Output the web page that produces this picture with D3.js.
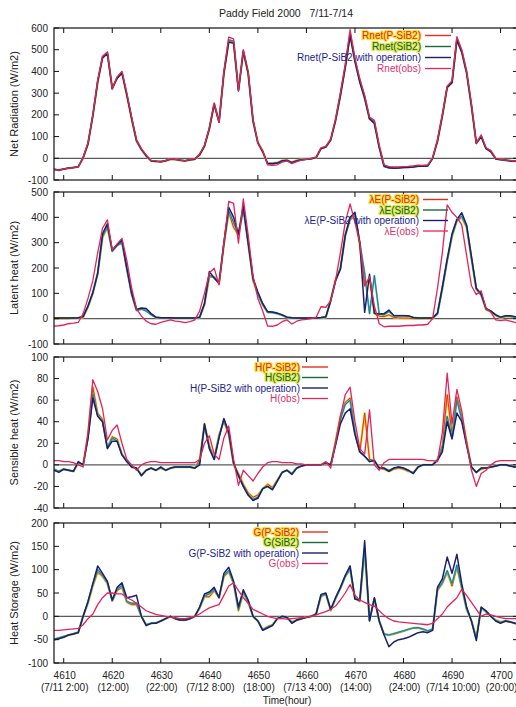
<!DOCTYPE html>
<html>
<head>
<meta charset="utf-8">
<script src="https://cdn.jsdelivr.net/npm/d3@7"></script>
<style>
  html, body { margin: 0; padding: 0; background: #fff; }
  svg { display: block; }
  text { font-family: "Liberation Sans", Arial, sans-serif; }
</style>
</head>
<body>
<svg id="chart" width="516" height="707"></svg>
<script>
// Hourly series, hours 4608 .. 4704 (7/11 0:00 .. 7/14 24:00)
const startHour = 4608;
const endHour = 4704;

const xTickHours = [4610, 4620, 4630, 4640, 4650, 4660, 4670, 4680, 4690, 4700];
const xTickDates = ["(7/11 2:00)", "(12:00)", "(22:00)", "(7/12 8:00)", "(18:00)",
                    "(7/13 4:00)", "(14:00)", "(24:00)", "(7/14 10:00)", "(20:00)"];

// Net radiation (W/m2)
const rnetObs = [
  -50, -55, -50, -45, -43, -38, 5, 70, 200, 360,
  470, 490, 320, 375, 400, 300, 190, 85, 45, 15,
  -10, -12, -18, -10, -3, -5, -8, -12, -5, -3,
  20, 60, 140, 255, 165, 400, 558, 550, 312, 500,
  400, 180, 70, 35, -30, -32, -30, -18, -12, -25,
  -15, -8, -5, 0, 5, 48, 55, 88, 180, 300,
  430, 593, 460, 365, 290, 190, 175, 60, -30, -38,
  -40, -40, -38, -37, -35, -32, -33, -30, 2, 85,
  200, 332, 358, 560, 500, 400, 250, 70, 108, 48,
  35, 0, -5, -8, -10, -12, -15];
const rnetP = [
  -52, -55, -50, -46, -43, -40, 0, 65, 195, 350,
  465, 485, 325, 370, 395, 290, 180, 80, 40, 12,
  -12, -15, -16, -12, -5, -6, -10, -12, -8, -5,
  15, 55, 135, 250, 170, 390, 540, 535, 318, 490,
  395, 170, 75, 30, -22, -22, -20, -10, -8, -18,
  -10, -6, -4, -2, 3, 45, 52, 85, 175, 290,
  420, 570, 450, 360, 280, 180, 165, 55, -35, -42,
  -43, -43, -41, -40, -38, -36, -35, -33, 0, 80,
  195, 325, 350, 545, 490, 395, 240, 70, 100, 45,
  32, -2, -6, -8, -12, -13, -15];
const rnetS = [
  -52, -56, -50, -45, -43, -40, 2, 68, 198, 355,
  468, 488, 318, 372, 398, 295, 185, 78, 42, 10,
  -12, -14, -16, -11, -4, -6, -9, -12, -7, -4,
  18, 58, 138, 252, 168, 395, 545, 540, 315, 495,
  392, 175, 72, 32, -24, -24, -22, -12, -9, -20,
  -11, -7, -4, -1, 4, 46, 53, 86, 178, 295,
  425, 575, 455, 355, 285, 185, 168, 50, -38, -44,
  -45, -44, -42, -41, -39, -36, -36, -34, 1, 82,
  198, 330, 352, 550, 495, 400, 245, 72, 102, 46,
  33, -3, -7, -9, -12, -13, -16];
const rnetOp = [
  -50, -54, -49, -45, -42, -39, 3, 66, 196, 352,
  462, 482, 322, 368, 392, 292, 182, 82, 41, 11,
  -11, -14, -15, -11, -4, -5, -9, -11, -7, -4,
  16, 56, 136, 248, 166, 392, 535, 530, 310, 492,
  390, 172, 70, 30, -25, -25, -22, -12, -10, -20,
  -12, -7, -5, -2, 3, 44, 52, 84, 172, 288,
  418, 565, 445, 350, 275, 182, 160, 50, -36, -44,
  -46, -45, -43, -42, -40, -37, -37, -35, 0, 78,
  194, 326, 348, 545, 488, 392, 240, 68, 100, 44,
  30, -3, -6, -9, -12, -13, -15];

// Latent heat flux (W/m2)
const leObs = [
  -29, -28, -25, -20, -18, -15, 20, 80, 150, 260,
  357, 390, 271, 295, 317, 230, 120, 40, 10, -10,
  -20, -22, -15, -10, -5, -10, -12, -16, -12, -5,
  30, 100, 180, 199, 133, 300, 463, 455, 298, 473,
  330, 170, 80, 30, -29, -30, -25, -12, -5, -21,
  -10, -5, -3, 0, 5, 47, 45, 70, 150, 260,
  380, 453, 380, 300, 130, 165, 50, -20, -32, -30,
  -30, -30, -28, -27, -27, -25, -25, -22, 0, 120,
  260, 449, 420, 400, 370, 250, 130, 95, 110, 40,
  25, -5, -8, -5, -10, -15, -18];
const leP = [
  0, 0, 0, 0, 1, 2, 5, 45, 100, 180,
  320, 360, 268, 290, 305, 200, 100, 35, 40, 33,
  18, 5, 3, 2, 2, 2, 2, 2, 2, 2,
  5, 55, 165, 165, 140, 290, 420, 360, 330, 440,
  300, 150, 95, 55, 25, 25, 20, 14, 5, 3,
  2, 2, 2, 2, 2, 3, 5, 75, 155, 200,
  330, 390, 405, 290, 130, 160, 20, 10, 8, 15,
  5, 3, 2, 2, 0, 0, 0, 0, 0, 20,
  120, 230, 325, 385, 400, 360, 235, 115, 95, 35,
  28, 12, 3, 8, 8, 5, 3];
const leS = [
  2, 2, 2, 2, 2, 3, 8, 48, 102, 175,
  325, 365, 265, 288, 300, 195, 95, 32, 38, 30,
  15, 5, 3, 3, 3, 3, 2, 2, 2, 2,
  5, 58, 170, 165, 138, 295, 425, 380, 330, 430,
  295, 155, 98, 55, 25, 24, 20, 14, 5, 3,
  2, 2, 2, 2, 3, 4, 6, 72, 150, 198,
  325, 395, 415, 300, 180, 20, 170, 18, 15, 28,
  12, 12, 12, 10, 5, 2, 2, 2, 2, 18,
  118, 228, 328, 388, 405, 365, 240, 118, 92, 38,
  30, 15, 5, 10, 10, 6, 5];
const leOp = [
  3, 3, 3, 3, 3, 4, 8, 50, 103, 180,
  335, 375, 270, 292, 310, 200, 100, 36, 42, 40,
  20, 6, 4, 4, 4, 3, 3, 3, 3, 3,
  6, 60, 186, 160, 140, 300, 440, 400, 335, 445,
  300, 160, 105, 60, 28, 26, 22, 15, 6, 4,
  3, 3, 3, 3, 3, 5, 8, 70, 150, 195,
  330, 400, 420, 298, 25, 175, 21, 18, 20, 34,
  12, 12, 12, 12, 5, 3, 3, 3, 3, 22,
  125, 235, 335, 392, 418, 370, 245, 120, 98, 40,
  30, 15, 6, 12, 12, 8, 6];

// Sensible heat flux (W/m2)
const hObs = [
  4, 4, 3, 3, 2, 0, -2, 30, 79, 68,
  52, 23, 32, 37, 20, 5, 0, -5, 0, 2,
  3, 3, 2, 2, 2, 2, 2, 2, 2, 2,
  5, 20, 27, 10, 5, 25, 36, 5, -19, -5,
  -10, -15, -8, -2, 2, 3, 3, 2, 2, 2,
  1, 1, 0, 0, 0, 0, 3, -3, 20, 45,
  65, 72, 40, 15, 10, 51, 0, -5, 2, 5,
  5, 5, 5, 5, 5, 5, 5, 4, 4, 3,
  30, 85, 38, 70, 50, 20, -5, -20, -8, -5,
  0, 3, 4, 4, 4, 4, 4];
const hP = [
  -5, -6, -4, -5, -6, 2, 0, 28, 72, 48,
  42, 16, 26, 24, 10, 4, -2, -3, -9, -5,
  -3, -5, -3, -5, -3, -2, -2, -2, -2, -3,
  5, 38, 18, 6, 28, 40, 28, 0, -8, -18,
  -26, -30, -28, -22, -18, -21, -14, -7, -5, -8,
  -3, -1, 0, 0, 0, 0, 2, 0, 22, 45,
  58, 62, 30, 12, 48, 5, 4, -3, -4, -6,
  -4, -3, -4, -6, -7, -2, 0, 0, 0, 5,
  18, 65, 28, 63, 45, 22, -2, -7, -4, -3,
  -2, -1, 0, 0, -1, -2, -2];
const hS = [
  -4, -6, -4, -5, -6, 2, 0, 26, 66, 46,
  40, 16, 25, 22, 10, 3, -2, -3, -10, -5,
  -3, -5, -2, -5, -3, -2, -2, -2, -2, -3,
  2, 36, 16, 5, 26, 42, 30, 1, -10, -20,
  -28, -32, -30, -22, -20, -23, -15, -7, -5, -8,
  -3, -1, 0, 0, 0, 0, 2, 0, 20, 42,
  56, 60, 30, 12, 8, 3, 4, -3, -3, -5,
  -3, -2, -3, -5, -8, -2, 0, 0, 0, 5,
  15, 45, 25, 60, 42, 20, -2, -7, -3, -3,
  -2, -1, 0, 0, -1, -2, -2];
const hOp = [
  -5, -7, -4, -5, -6, 3, 0, 24, 62, 45,
  40, 15, 22, 22, 9, 3, -2, -3, -10, -5,
  -3, -5, -2, -5, -3, -2, -2, -2, -2, -3,
  0, 38, 15, 5, 25, 43, 30, 2, -10, -20,
  -28, -33, -31, -22, -20, -23, -15, -7, -5, -9,
  -3, -1, 0, 0, 0, 0, 2, 0, 18, 38,
  48, 52, 28, 12, 8, 3, 4, -3, -3, -6,
  -3, -2, -3, -5, -8, -2, 0, 0, 0, 4,
  12, 40, 24, 48, 40, 18, -2, -7, -3, -3,
  -2, -1, 0, 0, -1, -2, -2];

// Ground heat storage (W/m2)
const gObs = [
  -30, -30, -29, -28, -27, -26, -18, -5, 5, 25,
  40, 50, 50, 48, 48, 40, 35, 28, 20, 12,
  8, 4, 2, 0, -2, -3, -5, -5, -3, 0,
  5, 12, 18, 22, 25, 45, 65, 72, 55, 40,
  28, 15, 10, 5, 0, -3, -5, -5, -6, -5,
  -4, -3, -2, 0, 3, 7, 10, 15, 22, 35,
  50, 68, 45, 35, 30, 25, 22, 12, 2, -5,
  -10, -12, -13, -14, -15, -16, -17, -18, -15, -5,
  5, 20, 30, 40, 58, 45, 30, 15, 0, 5,
  3, 0, -3, -5, -5, -5, -6];
const gP = [
  -50, -47, -44, -40, -38, -34, 0, 28, 65, 95,
  85, 70, 33, 55, 62, 30, 25, 25, 0, -18,
  -15, -14, -10, -5, 0, -5, -8, -8, -5, 0,
  18, 42, 42, 55, 40, 85, 95, 70, 12, 50,
  30, 0, -10, -28, -22, -18, -5, 0, -2, -12,
  -8, -5, -2, 0, 5, 42, 48, 12, 38, 60,
  85, 100, 38, 32, 140, -8, 38, -10, -38, -40,
  -38, -35, -32, -28, -25, -25, -28, -32, -28, 55,
  70, 95, 65, 105, 60, 15, -10, -45, 18, 10,
  0, -8, -12, -10, -12, -15, -18];
const gS = [
  -49, -46, -43, -40, -37, -34, 0, 30, 68, 100,
  88, 72, 33, 58, 66, 32, 28, 28, 0, -18,
  -15, -14, -10, -5, 0, -5, -8, -8, -5, 0,
  18, 44, 48, 58, 40, 88, 98, 72, 15, 52,
  32, 0, -10, -29, -23, -19, -5, 0, -2, -13,
  -8, -5, -2, 0, 5, 44, 48, 14, 38, 60,
  85, 102, 38, 33, 145, -9, 38, -10, -38, -40,
  -37, -34, -31, -28, -25, -24, -27, -31, -27, 58,
  72, 98, 70, 110, 62, 16, -10, -48, 18, 10,
  0, -9, -13, -10, -12, -15, -18];
const gOp = [
  -50, -48, -45, -40, -38, -35, 0, 32, 70, 108,
  92, 75, 35, 62, 72, 40, 42, 45, 0, -20,
  -15, -15, -10, -5, 0, -5, -8, -8, -5, 0,
  20, 48, 52, 62, 40, 92, 105, 75, 20, 57,
  35, 0, -10, -30, -25, -20, -5, 0, -2, -15,
  -8, -5, -2, 0, 5, 47, 50, 15, 40, 62,
  88, 108, 37, 35, 162, -10, 40, -10, -40, -65,
  -55, -50, -48, -45, -40, -35, -33, -35, -30, 62,
  80, 127, 92, 133, 70, 20, -10, -52, 20, 12,
  0, -10, -15, -10, -12, -15, -20];

// ---- drawing ----
const svg = d3.select("#chart");
const plotLeft = 54, plotRight = 520;
const x = d3.scaleLinear().domain([startHour, endHour]).range([plotLeft, plotRight]);

// line styles: each model run drawn with a tinted halo under a thin core
const styles = {
  p:   [{stroke: "#f4d21e", width: 2.3}, {stroke: "#e2301c", width: 1.0}],
  s:   [{stroke: "#45b4e6", width: 1.8}, {stroke: "#1d6a3c", width: 0.7}],
  op:  [{stroke: "#1b206c", width: 1.5}],
  obs: [{stroke: "#e3235b", width: 1.3}]
};
// legend sample lines
const keyLines = {
  p:   {stroke: "#e2301c", width: 1.4},
  s:   {stroke: "#1d6a3c", width: 1.4},
  op:  {stroke: "#1b206c", width: 1.4},
  obs: {stroke: "#e3235b", width: 1.3}
};
const labelStyles = {
  p:   {fill: "#e5261a", halo: "#f6e244"},
  s:   {fill: "#14603a", halo: "#dfe84a"},
  op:  {fill: "#1b2390", halo: null},
  obs: {fill: "#e0306a", halo: null}
};

const panels = [
  {top: 28, bottom: 180, domain: [-100, 600], step: 100, ylabel: "Net Radiation (W/m2)",
   series: [["p", rnetP, "Rnet(P-SiB2)"], ["s", rnetS, "Rnet(SiB2)"],
            ["op", rnetOp, "Rnet(P-SiB2 with operation)"], ["obs", rnetObs, "Rnet(obs)"]],
   legend: {textRight: 421, line0: 425, line1: 451, y0: 35.5, dy: 11}},
  {top: 192, bottom: 344, domain: [-100, 500], step: 100, ylabel: "Latent heat (W/m2)",
   series: [["p", leP, "\u03bbE(P-SiB2)"], ["s", leS, "\u03bbE(SiB2)"],
            ["op", leOp, "\u03bbE(P-SiB2 with operation)"], ["obs", leObs, "\u03bbE(obs)"]],
   legend: {textRight: 419, line0: 423, line1: 448, y0: 199.5, dy: 10.5}},
  {top: 357, bottom: 508, domain: [-40, 100], step: 20, ylabel: "Sensible heat (W/m2)",
   series: [["p", hP, "H(P-SiB2)"], ["s", hS, "H(SiB2)"],
            ["op", hOp, "H(P-SiB2 with operation)"], ["obs", hObs, "H(obs)"]],
   legend: {textRight: 300, line0: 302, line1: 328, y0: 367, dy: 10.5}},
  {top: 523, bottom: 663, domain: [-100, 200], step: 50, ylabel: "Heat Storage (W/m2)",
   series: [["p", gP, "G(P-SiB2)"], ["s", gS, "G(SiB2)"],
            ["op", gOp, "G(P-SiB2 with operation)"], ["obs", gObs, "G(obs)"]],
   legend: {textRight: 299, line0: 302, line1: 328, y0: 532, dy: 10.5}}
];

// title
svg.append("text").attr("x", 286).attr("y", 17).attr("text-anchor", "middle")
  .style("white-space", "pre")
  .attr("font-size", 10.5).attr("fill", "#222").text("Paddy Field 2000   7/11-7/14");

panels.forEach((pn, k) => {
  const y = d3.scaleLinear().domain(pn.domain).range([pn.bottom, pn.top]);
  const g = svg.append("g");
  const clipId = "clip" + k;
  svg.append("clipPath").attr("id", clipId).append("rect")
    .attr("x", plotLeft).attr("y", pn.top).attr("width", plotRight - plotLeft).attr("height", pn.bottom - pn.top);

  // zero line
  g.append("line").attr("x1", plotLeft).attr("x2", plotRight).attr("y1", y(0)).attr("y2", y(0))
    .attr("stroke", "#5a5a5a").attr("stroke-width", 1.3);

  // series
  const line = d3.line().x((d, i) => x(startHour + i)).y(d => y(d));
  const lg = g.append("g").attr("clip-path", `url(#${clipId})`);
  pn.series.forEach(([key, vals]) => {
    styles[key].forEach(st => {
      lg.append("path").datum(vals).attr("d", line).attr("fill", "none")
        .attr("stroke", st.stroke).attr("stroke-width", st.width).attr("stroke-linejoin", "round");
    });
  });

  // frame
  g.append("rect").attr("x", plotLeft).attr("y", pn.top).attr("width", plotRight - plotLeft)
    .attr("height", pn.bottom - pn.top).attr("fill", "none").attr("stroke", "#111").attr("stroke-width", 1.2);

  // y ticks (inward, both sides) and labels
  const yt = d3.range(pn.domain[0], pn.domain[1] + 0.001, pn.step);
  yt.forEach(v => {
    g.append("line").attr("x1", plotLeft).attr("x2", plotLeft + 5).attr("y1", y(v)).attr("y2", y(v))
      .attr("stroke", "#111").attr("stroke-width", 1);
    g.append("line").attr("x1", plotRight - 7).attr("x2", plotRight).attr("y1", y(v)).attr("y2", y(v))
      .attr("stroke", "#111").attr("stroke-width", 1);
    g.append("text").attr("x", 48).attr("y", y(v) + 3.5).attr("text-anchor", "end")
      .attr("font-size", 10).attr("fill", "#222").text(v);
  });

  // x ticks (inward, top and bottom)
  xTickHours.forEach(h => {
    g.append("line").attr("x1", x(h)).attr("x2", x(h)).attr("y1", pn.bottom).attr("y2", pn.bottom - 5)
      .attr("stroke", "#111").attr("stroke-width", 1);
    g.append("line").attr("x1", x(h)).attr("x2", x(h)).attr("y1", pn.top).attr("y2", pn.top + 5)
      .attr("stroke", "#111").attr("stroke-width", 1);
  });

  // y axis title
  g.append("text").attr("transform", `translate(18,${(pn.top + pn.bottom) / 2}) rotate(-90)`)
    .attr("text-anchor", "middle").attr("font-size", 11).attr("fill", "#222").text(pn.ylabel);

  // legend
  pn.series.forEach(([key, vals, label], i) => {
    const ly = pn.legend.y0 + i * pn.legend.dy;
    const ls = labelStyles[key];
    const t = g.append("text").attr("x", pn.legend.textRight).attr("y", ly + 3.5)
      .attr("text-anchor", "end").attr("font-size", 10).attr("fill", ls.fill).text(label);
    if (ls.halo) {
      t.attr("stroke", ls.halo).attr("stroke-width", 2.4).attr("paint-order", "stroke")
        .attr("stroke-linejoin", "round");
    }
    const kl = keyLines[key];
    g.append("line").attr("x1", pn.legend.line0).attr("x2", pn.legend.line1)
      .attr("y1", ly).attr("y2", ly).attr("stroke", kl.stroke).attr("stroke-width", kl.width);
  });
});

// bottom axis labels
const lastBottom = panels[panels.length - 1].bottom;
xTickHours.forEach((h, i) => {
  svg.append("text").attr("x", x(h) + 1).attr("y", lastBottom + 16).attr("text-anchor", "middle")
    .attr("font-size", 10).attr("fill", "#222").text(h);
  svg.append("text").attr("x", x(h) + 1).attr("y", lastBottom + 28).attr("text-anchor", "middle")
    .attr("font-size", 10).attr("fill", "#222").text(xTickDates[i]);
});
svg.append("text").attr("x", 287).attr("y", lastBottom + 41).attr("text-anchor", "middle")
  .attr("font-size", 10).attr("fill", "#222").text("Time(hour)");
</script>
</body>
</html>
